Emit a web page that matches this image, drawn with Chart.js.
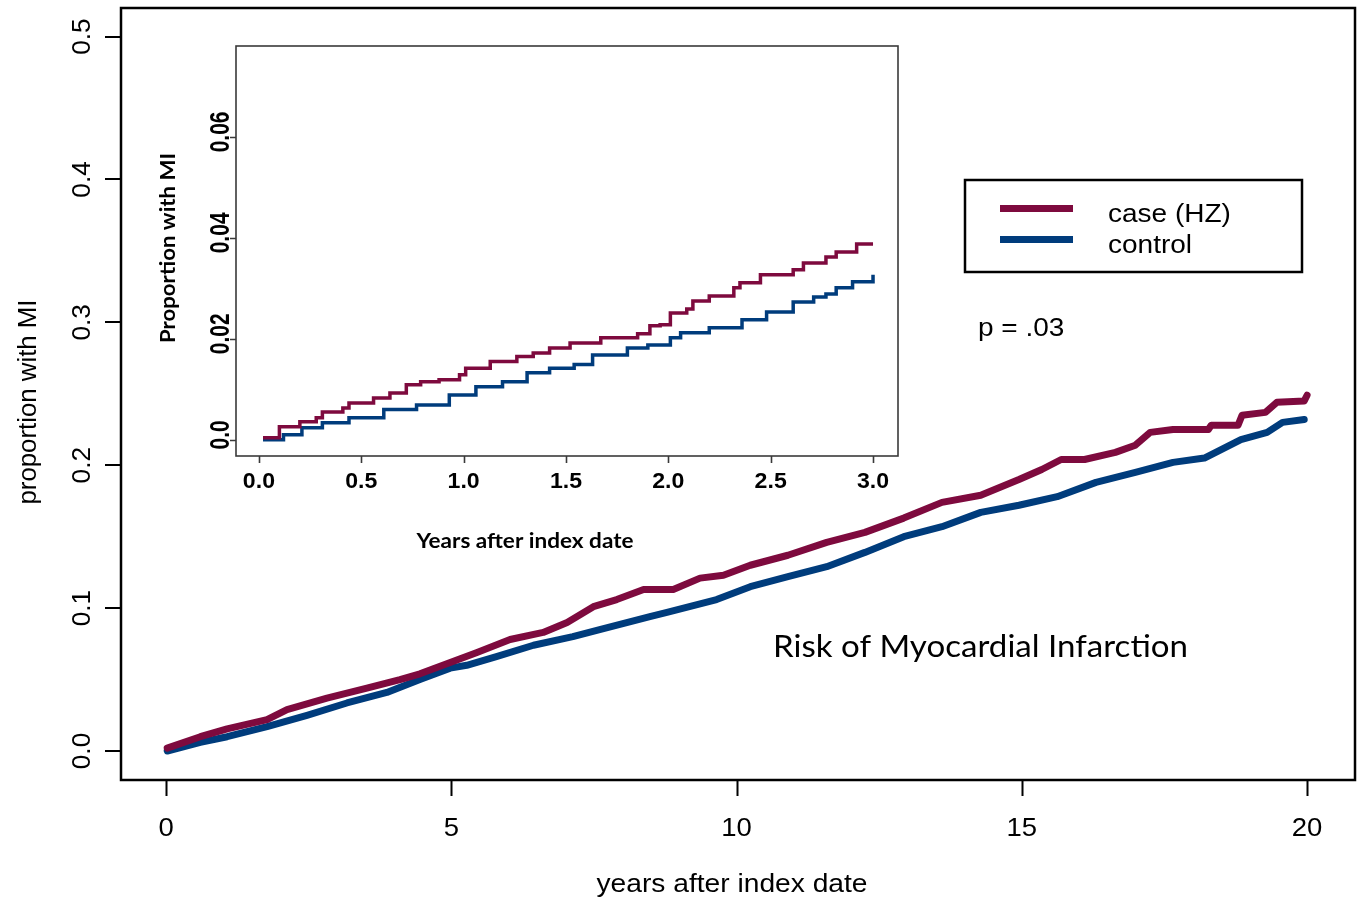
<!DOCTYPE html>
<html>
<head>
<meta charset="utf-8">
<script src="https://cdn.jsdelivr.net/npm/chart.js@4.4.1/dist/chart.umd.min.js"></script>
<style>
  body { margin: 0; background: #fff; }
  #wrap { position: relative; width: 1357px; height: 899px; }
  #mainChart { position: absolute; left: 0; top: 0; }
  #insetChart { position: absolute; left: 140px; top: 30px; }
</style>
</head>
<body>
<div id="wrap">
  <canvas id="mainChart" width="1357" height="899"></canvas>
  <canvas id="insetChart" width="780" height="540"></canvas>
</div>
<script>
// main plot, 0-20 years
const caseYears = [0.02, 0.6, 1.07, 1.77, 2.12, 2.82, 3.52, 4.1, 4.45, 4.98, 5.45, 6.03, 6.61, 7.03, 7.49, 7.9, 8.37, 8.89, 9.36, 9.77, 10.24, 10.9, 11.58, 12.25, 12.93, 13.6, 14.28, 14.95, 15.35, 15.69, 16.1, 16.64, 16.99, 17.25, 17.65, 18.27, 18.32, 18.79, 18.86, 19.27, 19.47, 19.95, 20.0];
const caseRisk = [0.002, 0.010, 0.0155, 0.022, 0.029, 0.037, 0.044, 0.050, 0.054, 0.062, 0.069, 0.078, 0.083, 0.090, 0.101, 0.106, 0.113, 0.113, 0.121, 0.123, 0.130, 0.137, 0.146, 0.153, 0.163, 0.174, 0.179, 0.190, 0.197, 0.204, 0.204, 0.209, 0.214, 0.223, 0.225, 0.225, 0.228, 0.228, 0.235, 0.237, 0.244, 0.245, 0.249];
const controlYears = [0.02, 0.6, 1.07, 1.77, 2.47, 3.17, 3.87, 4.45, 4.98, 5.27, 5.79, 6.44, 7.13, 7.6, 8.48, 8.78, 9.65, 10.24, 10.9, 11.58, 12.25, 12.93, 13.6, 14.28, 14.95, 15.62, 16.3, 16.99, 17.65, 18.2, 18.84, 19.3, 19.57, 19.95];
const controlRisk = [0.000, 0.006, 0.010, 0.017, 0.025, 0.0336, 0.041, 0.050, 0.058, 0.060, 0.066, 0.074, 0.080, 0.085, 0.094, 0.097, 0.106, 0.115, 0.122, 0.129, 0.139, 0.150, 0.157, 0.167, 0.172, 0.178, 0.188, 0.195, 0.202, 0.205, 0.218, 0.223, 0.230, 0.232];

// inset, first 3 years
const insetCaseYears = [0.02, 0.10, 0.20, 0.28, 0.31, 0.41, 0.44, 0.56, 0.64, 0.72, 0.79, 0.88, 0.98, 1.01, 1.13, 1.26, 1.34, 1.42, 1.52, 1.67, 1.85, 1.91, 1.96, 2.01, 2.09, 2.12, 2.2, 2.32, 2.35, 2.45, 2.61, 2.66, 2.77, 2.82, 2.92, 3.0];
const insetCaseRisk = [0.0004, 0.0026, 0.0036, 0.0044, 0.0055, 0.0063, 0.0073, 0.0083, 0.0093, 0.0109, 0.0115, 0.0119, 0.0129, 0.0142, 0.0155, 0.0165, 0.0172, 0.0182, 0.0192, 0.0202, 0.021, 0.0226, 0.0228, 0.0251, 0.0259, 0.0275, 0.0285, 0.0301, 0.0311, 0.0327, 0.0337, 0.035, 0.0362, 0.0372, 0.0388, 0.0388];
const insetControlYears = [0.02, 0.12, 0.21, 0.31, 0.44, 0.61, 0.77, 0.93, 1.06, 1.19, 1.31, 1.42, 1.54, 1.63, 1.8, 1.9, 2.01, 2.06, 2.2, 2.36, 2.48, 2.61, 2.71, 2.77, 2.82, 2.9, 3.0];
const insetControlRisk = [0, 0.001, 0.0024, 0.0034, 0.0044, 0.006, 0.0069, 0.0089, 0.0105, 0.0115, 0.0133, 0.0142, 0.0149, 0.0168, 0.0182, 0.0188, 0.0202, 0.0212, 0.0222, 0.0238, 0.0253, 0.0273, 0.0283, 0.0289, 0.0301, 0.0313, 0.0327];

const mainXTicks = [0, 5, 10, 15, 20];
const mainYTicks = [0, 0.1, 0.2, 0.3, 0.4, 0.5];
const insetXTicks = [0, 0.5, 1, 1.5, 2, 2.5, 3];
const insetYTicks = [0, 0.02, 0.04, 0.06];
const insetYLabels = ['0.0', '0.02', '0.04', '0.06'];
const seriesNames = ['case (HZ)', 'control'];

const CASE_COL = '#7e0a3e';
const CTRL_COL = '#003c7c';

function pts(xs, ys) { return xs.map((x, i) => ({x: x, y: ys[i]})); }

function label(ctx, text, x, y, o) {
  ctx.save();
  ctx.translate(x, y);
  if (o.rot) ctx.rotate(o.rot);
  ctx.font = o.font;
  let sx = o.sx || 1;
  if (o.fit) sx = o.fit / ctx.measureText(text).width;
  ctx.scale(sx, o.sy || 1);
  ctx.fillStyle = o.color || '#000';
  ctx.textAlign = o.align || 'center';
  ctx.textBaseline = 'alphabetic';
  ctx.fillText(text, 0, 0);
  ctx.restore();
}

const mainDecor = {
  id: 'mainDecor',
  afterDraw(chart) {
    const ctx = chart.ctx, a = chart.chartArea;
    const xs = chart.scales.x, ys = chart.scales.y;
    ctx.save();
    ctx.strokeStyle = '#000';
    ctx.lineWidth = 2.5;
    ctx.strokeRect(a.left, a.top, a.right - a.left, a.bottom - a.top);
    ctx.lineWidth = 2;
    ctx.beginPath();
    mainXTicks.forEach(v => {
      const px = Math.round(xs.getPixelForValue(v)) + 0.5;
      ctx.moveTo(px, a.bottom); ctx.lineTo(px, a.bottom + 16);
    });
    mainYTicks.forEach(v => {
      const py = Math.round(ys.getPixelForValue(v));
      ctx.moveTo(a.left, py); ctx.lineTo(a.left - 16, py);
    });
    ctx.stroke();
    const f = '25px "Liberation Sans", Arial, sans-serif';
    mainXTicks.forEach(v => label(ctx, String(v), xs.getPixelForValue(v), 836, {font: f, sx: 1.1}));
    mainYTicks.forEach(v => label(ctx, v.toFixed(1), 90, ys.getPixelForValue(v), {font: f, rot: -Math.PI / 2, sx: 1.05}));
    label(ctx, 'years after index date', 732, 892, {font: f, fit: 271});
    label(ctx, 'proportion with MI', 36, 402, {font: '26px "Liberation Sans", Arial, sans-serif', rot: -Math.PI / 2, fit: 205});

    // legend box
    ctx.lineWidth = 2.5;
    ctx.strokeRect(965, 180, 337, 92);
    ctx.lineWidth = 7;
    ctx.strokeStyle = CASE_COL;
    ctx.beginPath(); ctx.moveTo(1000, 208.5); ctx.lineTo(1073, 208.5); ctx.stroke();
    ctx.strokeStyle = CTRL_COL;
    ctx.beginPath(); ctx.moveTo(1000, 239.5); ctx.lineTo(1073, 239.5); ctx.stroke();
    label(ctx, seriesNames[0], 1108, 222, {font: f, align: 'left', sx: 1.12});
    label(ctx, seriesNames[1], 1108, 253, {font: f, align: 'left', sx: 1.12});
    label(ctx, 'p = .03', 978, 336, {font: f, align: 'left', sx: 1.12});
    label(ctx, 'Risk of Myocardial Infarction', 773, 657, {font: '30px Lato, "Open Sans", sans-serif', align: 'left', fit: 415});
    ctx.restore();
  }
};

new Chart('mainChart', {
  type: 'line',
  data: {
    datasets: [
      { label: seriesNames[0], data: pts(caseYears, caseRisk), borderColor: CASE_COL, borderWidth: 7, pointRadius: 0, borderJoinStyle: 'round', borderCapStyle: 'round' },
      { label: seriesNames[1], data: pts(controlYears, controlRisk), borderColor: CTRL_COL, borderWidth: 7, pointRadius: 0, borderJoinStyle: 'round', borderCapStyle: 'round' }
    ]
  },
  options: {
    responsive: false,
    animation: false,
    events: [],
    layout: { padding: { left: 0, top: 8, right: 2, bottom: 0 } },
    plugins: { legend: { display: false }, tooltip: { enabled: false } },
    scales: {
      x: {
        type: 'linear', min: -0.79, max: 20.84,
        grid: { display: false }, border: { display: false }, ticks: { display: false },
        afterFit: s => { s.height = 119; }
      },
      y: {
        type: 'linear', min: -0.0203, max: 0.520,
        grid: { display: false }, border: { display: false }, ticks: { display: false },
        afterFit: s => { s.width = 121; }
      }
    }
  },
  plugins: [mainDecor]
});

// inset canvas sits at (140, 30) on the page
const OX = 140, OY = 30;
const insetDecor = {
  id: 'insetDecor',
  beforeDatasetsDraw(chart) {
    const ctx = chart.ctx, a = chart.chartArea;
    ctx.save();
    ctx.fillStyle = '#fff';
    ctx.fillRect(a.left, a.top, a.right - a.left, a.bottom - a.top);
    ctx.restore();
  },
  afterDraw(chart) {
    const ctx = chart.ctx, a = chart.chartArea;
    const xs = chart.scales.x, ys = chart.scales.y;
    ctx.save();
    ctx.strokeStyle = '#3a3a3a';
    ctx.lineWidth = 1.6;
    ctx.strokeRect(a.left, a.top, a.right - a.left, a.bottom - a.top);
    ctx.beginPath();
    insetXTicks.forEach(v => {
      const px = Math.round(xs.getPixelForValue(v)) + 0.5;
      ctx.moveTo(px, a.bottom); ctx.lineTo(px, a.bottom + 7);
    });
    insetYTicks.forEach(v => {
      const py = Math.round(ys.getPixelForValue(v)) + 0.5;
      ctx.moveTo(a.left, py); ctx.lineTo(a.left - 6, py);
    });
    ctx.stroke();
    const fb = 'bold 22px "Liberation Sans", Arial, sans-serif';
    insetXTicks.forEach(v => label(ctx, v.toFixed(1), xs.getPixelForValue(v), 488 - OY, {font: fb, sx: 1.05}));
    insetYTicks.forEach((v, i) => label(ctx, insetYLabels[i], 229 - OX, ys.getPixelForValue(v) - 5, {font: 'bold 21px "Liberation Sans", Arial, sans-serif', rot: -Math.PI / 2, sy: 1.35}));
    label(ctx, 'Proportion with MI', 175 - OX, 248 - OY, {font: 'bold 20px Lato, "Open Sans", sans-serif', rot: -Math.PI / 2, fit: 190});
    label(ctx, 'Years after index date', 525 - OX, 548 - OY, {font: 'bold 21px Lato, "Open Sans", sans-serif', fit: 217});
    ctx.restore();
  }
};

new Chart('insetChart', {
  type: 'line',
  data: {
    datasets: [
      { label: seriesNames[0], data: pts(insetCaseYears, insetCaseRisk), borderColor: CASE_COL, borderWidth: 3.5, pointRadius: 0, stepped: true },
      { label: seriesNames[1], data: pts(insetControlYears, insetControlRisk), borderColor: CTRL_COL, borderWidth: 3.5, pointRadius: 0, stepped: true }
    ]
  },
  options: {
    responsive: false,
    animation: false,
    events: [],
    layout: { padding: { left: 0, top: 16, right: 22, bottom: 0 } },
    plugins: { legend: { display: false }, tooltip: { enabled: false } },
    scales: {
      x: {
        type: 'linear', min: -0.112, max: 3.122,
        grid: { display: false }, border: { display: false }, ticks: { display: false },
        afterFit: s => { s.height = 114; }
      },
      y: {
        type: 'linear', min: -0.0032, max: 0.078,
        grid: { display: false }, border: { display: false }, ticks: { display: false },
        afterFit: s => { s.width = 96; }
      }
    }
  },
  plugins: [insetDecor]
});
</script>
</body>
</html>
